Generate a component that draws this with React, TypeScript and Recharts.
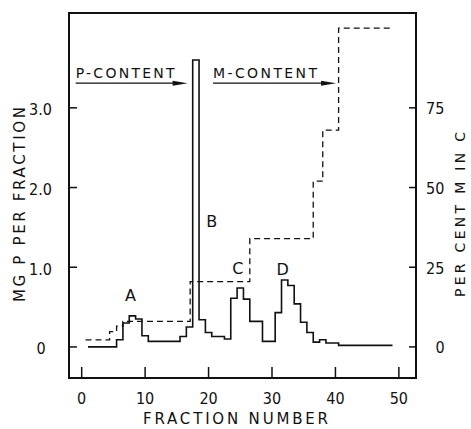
import { LineChart, Line, XAxis, YAxis, ReferenceArea, ReferenceLine, ReferenceDot } from 'recharts';

const INK = '#111';
const NARROW = "'Liberation Sans Narrow', 'DejaVu Sans Condensed', 'Liberation Sans', sans-serif";
const LETTERING = "'DejaVu Sans', 'Liberation Sans', sans-serif";

// phosphorus per fraction (solid histogram)
const fractionNumbers = [
  1, 2, 3, 4, 5, 6, 7, 8, 9, 10, 11, 12, 13, 14, 15, 16, 17, 18, 19, 20, 21, 22, 23, 24, 25,
  26, 27, 28, 29, 30, 31, 32, 33, 34, 35, 36, 37, 38, 39, 40, 41, 42, 43, 44, 45, 46, 47, 48, 49,
];
const mgPerFraction = [
  0, 0, 0, 0, 0, 0.09, 0.3, 0.39, 0.35, 0.14, 0.07, 0.07, 0.07, 0.07, 0.07, 0.13, 0.25, 3.6,
  0.34, 0.18, 0.13, 0.13, 0.1, 0.61, 0.74, 0.6, 0.32, 0.32, 0.07, 0.07, 0.43, 0.84, 0.77, 0.54,
  0.31, 0.18, 0.06, 0.09, 0.05, 0.05, 0.02, 0.02, 0.02, 0.02, 0.02, 0.02, 0.02, 0.02, 0.02,
];

// per cent M in C (dashed staircase)
const stepFractions = [0.6, 4.4, 5.5, 6.5, 17.1, 26.5, 36.5, 38, 40.5, 49];
const percentM = [2.2, 4.8, 6.5, 8, 20.5, 34, 52, 68, 100, 100];

const xTicks = [0, 10, 20, 30, 40, 50];
const mgTicks = [0, 1, 2, 3];
const percentTicks = [0, 25, 50, 75];

const X_DOMAIN = [-2, 52.7];
const MG_DOMAIN = [-0.39, 4.19];
const PCT_DOMAIN = [-9.75, 104.75];

const peakNames = ['A', 'B', 'C', 'D'];
const peakLabelFraction = [7.7, 20.5, 24.6, 31.7];
const peakLabelMg = [0.64, 1.58, 0.98, 0.97];

const pTable = fractionNumbers.map((f, i) => ({ f, mg: mgPerFraction[i] }));
const mTable = stepFractions.map((f, i) => ({ f, pct: percentM[i] }));

function BottomTick({ x, y, payload }: any) {
  return (
    <g>
      <line x1={x} y1={y} x2={x} y2={y - 11} stroke={INK} strokeWidth={1.5} />
      <text x={x} y={y + 20} textAnchor="middle" dominantBaseline="central" fontSize={16} fontFamily={NARROW} fill={INK}>
        {payload.value}
      </text>
    </g>
  );
}

function LeftTick({ x, y, payload }: any) {
  const v = payload.value;
  return (
    <g>
      <line x1={x} y1={y} x2={x + 8} y2={y} stroke={INK} strokeWidth={1.5} />
      <text
        x={v === 0 ? x - 28 : x - 17}
        y={y + 2}
        textAnchor={v === 0 ? 'middle' : 'end'}
        dominantBaseline="central"
        fontSize={16}
        fontFamily={NARROW}
        fill={INK}
      >
        {v === 0 ? '0' : v.toFixed(1)}
      </text>
    </g>
  );
}

function RightTick({ x, y, payload }: any) {
  const v = payload.value;
  return (
    <g>
      <line x1={x - 7} y1={y} x2={x} y2={y} stroke={INK} strokeWidth={1.5} />
      <text
        x={v === 0 ? x + 24 : x + 10}
        y={y + 1}
        textAnchor={v === 0 ? 'middle' : 'start'}
        dominantBaseline="central"
        fontSize={16}
        fontFamily={NARROW}
        fill={INK}
      >
        {v}
      </text>
    </g>
  );
}

const arrowShape = (caption: string, length: number) => (props: any) => {
  const { x1, y1, x2, y2 } = props;
  return (
    <g>
      <line x1={x1} y1={y1} x2={x2 - 10} y2={y2} stroke={INK} strokeWidth={1.4} />
      <polygon points={`${x2},${y2} ${x2 - 15},${y2 - 2.5} ${x2 - 15},${y2 + 2.5}`} fill={INK} />
      <text
        x={x1}
        y={y1 - 5}
        fontSize={14}
        textLength={length}
        lengthAdjust="spacing"
        fontFamily={LETTERING}
        fill={INK}
      >
        {caption}
      </text>
    </g>
  );
};

export default function App() {
  return (
    <div style={{ padding: '8px 0 0 8px' }}>
      <style>{'body{margin:0}'}</style>
      <LineChart width={463} height={421} margin={{ top: 5, right: 10, bottom: 11, left: 16 }}>
        <XAxis
          dataKey="f"
          type="number"
          domain={X_DOMAIN}
          ticks={xTicks}
          allowDataOverflow
          height={40}
          axisLine={false}
          tickLine={false}
          tickSize={0}
          tickMargin={0}
          tick={<BottomTick />}
          interval={0}
        />
        <YAxis
          yAxisId="mg"
          type="number"
          domain={MG_DOMAIN}
          ticks={mgTicks}
          allowDataOverflow
          width={45}
          axisLine={false}
          tickLine={false}
          tickSize={0}
          tickMargin={0}
          tick={<LeftTick />}
          interval={0}
        />
        <YAxis
          yAxisId="pct"
          orientation="right"
          type="number"
          domain={PCT_DOMAIN}
          ticks={percentTicks}
          allowDataOverflow
          width={45}
          axisLine={false}
          tickLine={false}
          tickSize={0}
          tickMargin={0}
          tick={<RightTick />}
          interval={0}
        />
        <ReferenceArea
          yAxisId="mg"
          x1={X_DOMAIN[0]}
          x2={X_DOMAIN[1]}
          y1={MG_DOMAIN[0]}
          y2={MG_DOMAIN[1]}
          fill="none"
          fillOpacity={0}
          stroke={INK}
          strokeWidth={2}
          strokeOpacity={1}
        />
        <Line
          yAxisId="mg"
          data={pTable}
          dataKey="mg"
          type="step"
          stroke={INK}
          strokeWidth={1.6}
          dot={false}
          isAnimationActive={false}
        />
        <Line
          yAxisId="pct"
          data={mTable}
          dataKey="pct"
          type="stepAfter"
          stroke={INK}
          strokeWidth={1.3}
          strokeDasharray="6 4"
          dot={false}
          isAnimationActive={false}
        />
        <ReferenceLine
          yAxisId="mg"
          segment={[{ x: -0.95, y: 3.31 }, { x: 16.7, y: 3.31 }]}
          shape={arrowShape('P-CONTENT', 99)}
        />
        <ReferenceLine
          yAxisId="mg"
          segment={[{ x: 20.7, y: 3.31 }, { x: 40.1, y: 3.31 }]}
          shape={arrowShape('M-CONTENT', 104)}
        />
        {peakNames.map((name, i) => (
          <ReferenceDot
            key={name}
            yAxisId="mg"
            x={peakLabelFraction[i]}
            y={peakLabelMg[i]}
            shape={(p: any) => (
              <text x={p.cx} y={p.cy} textAnchor="middle" dominantBaseline="central" fontSize={16} fontFamily={LETTERING} fill={INK}>
                {name}
              </text>
            )}
          />
        ))}
        <text
          x={135}
          y={411}
          dominantBaseline="central"
          fontSize={15}
          textLength={185}
          lengthAdjust="spacing"
          fontFamily={LETTERING}
          fill={INK}
        >
          FRACTION NUMBER
        </text>
        <text
          transform="translate(12,294) rotate(-90)"
          dominantBaseline="central"
          fontSize={15}
          textLength={195}
          lengthAdjust="spacing"
          fontFamily={LETTERING}
          fill={INK}
        >
          MG P PER FRACTION
        </text>
        <text
          transform="translate(452,289) rotate(-90)"
          dominantBaseline="central"
          fontSize={14}
          textLength={165}
          lengthAdjust="spacing"
          fontFamily={LETTERING}
          fill={INK}
        >
          PER CENT M IN C
        </text>
      </LineChart>
    </div>
  );
}
